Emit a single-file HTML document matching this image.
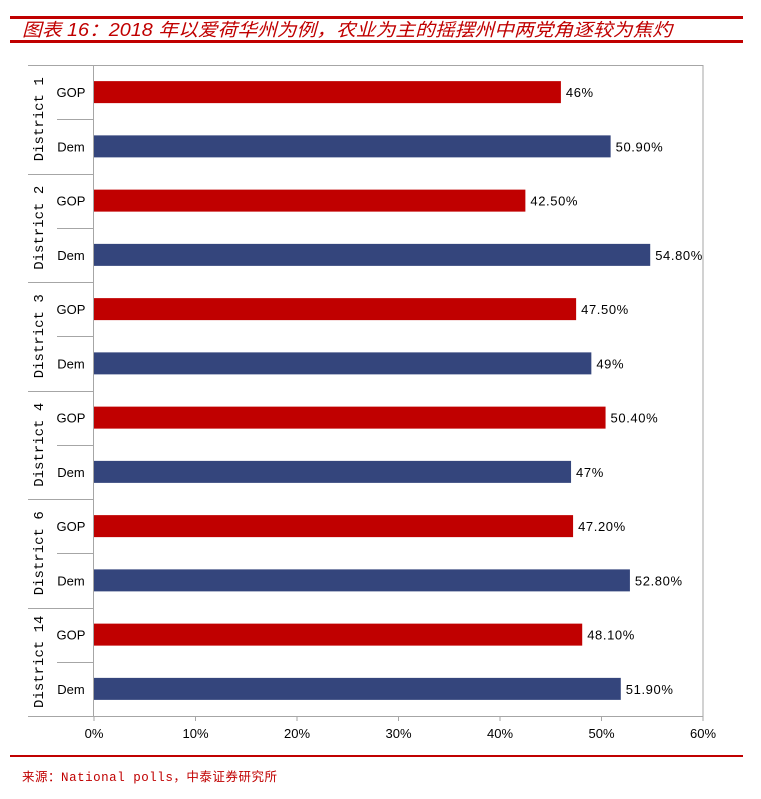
<!DOCTYPE html><html><head><meta charset="utf-8"><style>body{margin:0;background:#fff}</style></head><body>
<svg width="761" height="794" xmlns="http://www.w3.org/2000/svg" font-family="Liberation Sans, Noto Sans CJK SC, sans-serif">
<rect x="10" y="16" width="733" height="3" fill="#c00000"/>
<rect x="10" y="40" width="733" height="3" fill="#c00000"/>
<text x="22" y="36" font-size="18" font-style="italic" fill="#c00000" textLength="650" lengthAdjust="spacingAndGlyphs" font-family="Liberation Sans, Noto Sans CJK SC, sans-serif">图表 16：2018 年以爱荷华州为例，农业为主的摇摆州中两党角逐较为焦灼</text>
<rect x="93.5" y="65.5" width="609.5" height="651" stroke="#a6a6a6" fill="none"/>
<rect x="10" y="755" width="733" height="2" fill="#c00000"/>
<text x="22" y="781" font-size="12.5" fill="#c00000" textLength="255" font-family="Liberation Mono, Noto Sans CJK SC, monospace">来源：National polls，中泰证券研究所</text>
<script>
(function(){
var ns="http://www.w3.org/2000/svg",s=document.querySelector('svg');
function el(t,a,txt){var e=document.createElementNS(ns,t);for(var k in a)e.setAttribute(k,a[k]);if(txt)e.textContent=txt;s.appendChild(e);return e;}
var d=[["District 1",46,"46%",50.9,"50.90%"],["District 2",42.5,"42.50%",54.8,"54.80%"],["District 3",47.5,"47.50%",49,"49%"],["District 4",50.4,"50.40%",47,"47%"],["District 6",47.2,"47.20%",52.8,"52.80%"],["District 14",48.1,"48.10%",51.9,"51.90%"]];
var y0=65,band=651/12,x0=94,sc=609/60;
el('line',{x1:28,y1:65.5,x2:94,y2:65.5,stroke:'#a6a6a6'});
d.forEach(function(r,i){
 var g=y0+band*2*i;
 el('line',{x1:28,y1:Math.round(g+band*2)+0.5,x2:94,y2:Math.round(g+band*2)+0.5,stroke:'#a6a6a6'});
 el('line',{x1:57,y1:Math.round(g+band)+0.5,x2:94,y2:Math.round(g+band)+0.5,stroke:'#a6a6a6'});
 var cy=g+band;
 el('text',{x:0,y:0,'font-size':14,fill:'#000','text-anchor':'middle','font-family':'Liberation Mono, monospace',transform:'translate(43,'+cy+') rotate(-90)'},r[0]);
 [[r[1],r[2],'#c00000','GOP'],[r[3],r[4],'#34457c','Dem']].forEach(function(b,j){
  var c=g+band*j+band/2;
  el('rect',{x:x0,y:c-11,width:b[0]*sc,height:22,fill:b[2]});
  el('text',{x:71,y:c+5,'font-size':13,'text-anchor':'middle'},b[3]);
  el('text',{x:x0+b[0]*sc+5,y:c+5,'font-size':13,'letter-spacing':'0.6'},b[1]);
 });
});
for(var k=0;k<=6;k++){var x=x0+k*101.5;el('line',{x1:x,y1:716,x2:x,y2:721,stroke:'#a6a6a6'});el('text',{x:x,y:738,'font-size':13,'text-anchor':'middle'},k*10+'%');}
})();
</script>
</svg></body></html>
